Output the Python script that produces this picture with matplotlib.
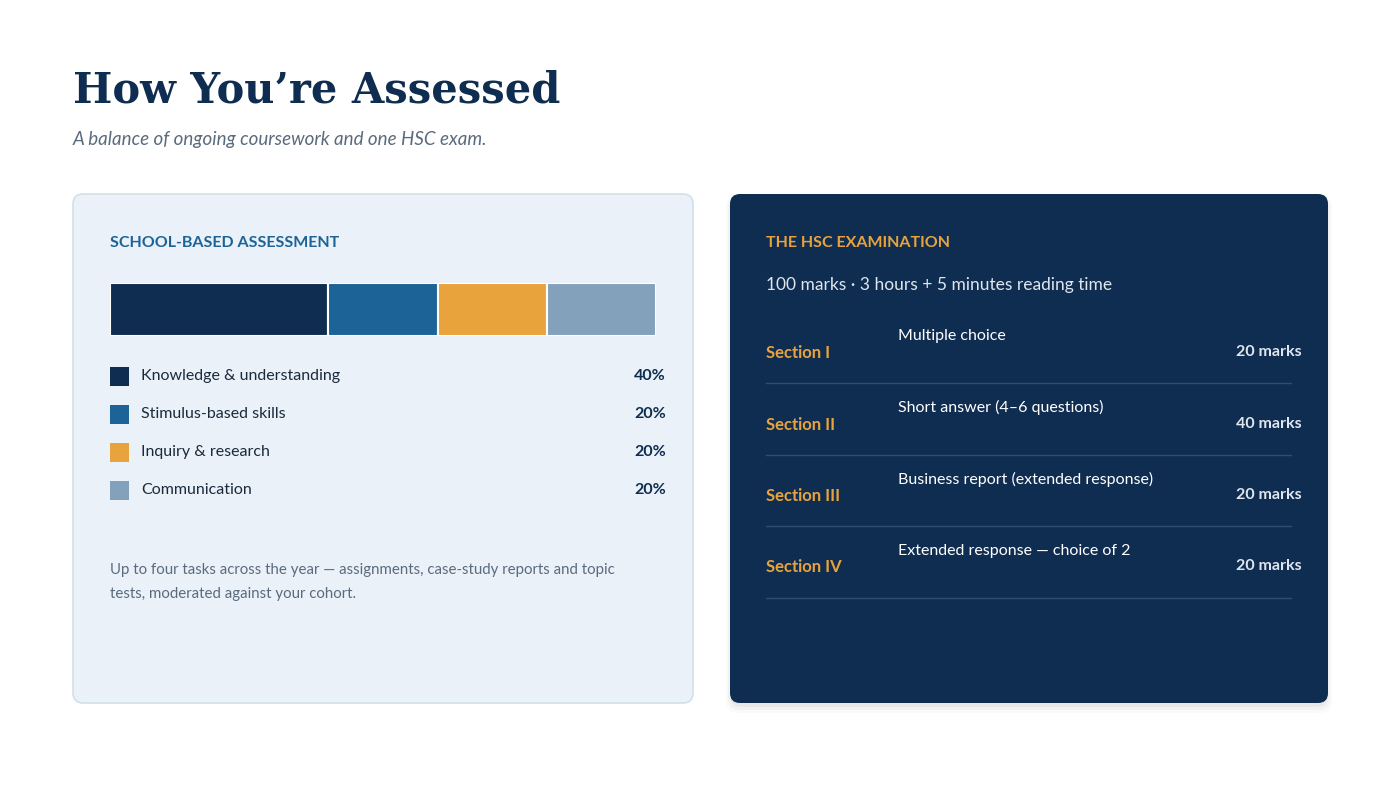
import matplotlib
matplotlib.use("Agg")
import matplotlib.pyplot as plt
from matplotlib.patches import FancyBboxPatch, Rectangle
import numpy as np

plt.rcParams['font.family'] = ['Lato', 'DejaVu Sans']

components = ["Knowledge & understanding", "Stimulus-based skills",
              "Inquiry & research", "Communication"]
weights = [40, 20, 20, 20]
comp_colors = ["#0f2d50", "#1c6397", "#e8a33d", "#84a1bb"]

sections = ["Section I", "Section II", "Section III", "Section IV"]
section_desc = ["Multiple choice", "Short answer (4\u20136 questions)",
                "Business report (extended response)",
                "Extended response \u2014 choice of 2"]
section_marks = [20, 40, 20, 20]

NAVY = "#0f2d50"
ORANGE = "#e8a33d"

W, H = 1400, 788
fig = plt.figure(figsize=(W / 100, H / 100), dpi=100)
ax = fig.add_axes([0, 0, 1, 1])
ax.set_xlim(0, W)
ax.set_ylim(H, 0)
ax.axis("off")

ax.text(73, 90, "How You\u2019re Assessed", fontsize=30, fontweight="bold",
        family="DejaVu Serif", color=NAVY, va="center")
ax.text(73, 139, "A balance of ongoing coursework and one HSC exam.",
        fontsize=13.5, style="italic", color="#5b6b7e", va="center")

# left card
ax.add_patch(FancyBboxPatch((73, 194), 620, 509, boxstyle="round,pad=0,rounding_size=10",
                            fc="#eaf1f8", ec="#d3dfea", lw=1.2))
ax.text(110, 243, "SCHOOL-BASED ASSESSMENT", fontsize=11.5, fontweight="bold",
        color="#1c6397", va="center")

bar_ax = fig.add_axes([110 / W, 1 - 336 / H, 546 / W, 53 / H])
left = np.cumsum([0] + weights[:-1])
bar_ax.barh([0], weights, left=left, color=comp_colors, height=1,
            edgecolor="white", linewidth=1.5)
bar_ax.set_xlim(0, sum(weights))
bar_ax.set_ylim(-0.5, 0.5)
bar_ax.axis("off")

for i, (name, w, c) in enumerate(zip(components, weights, comp_colors)):
    y = 376 + 38 * i
    ax.add_patch(Rectangle((110, y - 9), 19, 19, fc=c, ec="none"))
    ax.text(141, y, name, fontsize=11.5, color="#1b2a3c", va="center")
    ax.text(666, y, f"{w}%", fontsize=11.5, fontweight="bold", color=NAVY,
            va="center", ha="right")

ax.text(110, 570, "Up to four tasks across the year \u2014 assignments, case-study reports and topic",
        fontsize=10.8, color="#5b6b7e", va="center")
ax.text(110, 594, "tests, moderated against your cohort.", fontsize=10.8,
        color="#5b6b7e", va="center")

# right card with shadow
for k, a in enumerate([0.04, 0.03, 0.02]):
    ax.add_patch(FancyBboxPatch((730 - 2 * k, 198 - k), 598 + 4 * k, 509 + 4 * k,
                                boxstyle="round,pad=0,rounding_size=12",
                                fc="black", ec="none", alpha=a))
ax.add_patch(FancyBboxPatch((730, 194), 598, 509, boxstyle="round,pad=0,rounding_size=10",
                            fc=NAVY, ec="none"))
ax.text(766, 243, "THE HSC EXAMINATION", fontsize=11.5, fontweight="bold",
        color=ORANGE, va="center")
ax.text(766, 285, "100 marks \u00b7 3 hours + 5 minutes reading time", fontsize=12.5,
        color="#dfe6ee", va="center")

for i, (s, d, m) in enumerate(zip(sections, section_desc, section_marks)):
    y0 = 336 + 71.5 * i
    ax.text(766, y0 + 17, s, fontsize=12, fontweight="bold", color=ORANGE, va="center")
    ax.text(898, y0, d, fontsize=11.5, color="white", va="center")
    ax.text(1302, y0 + 16, f"{m} marks", fontsize=11.5, fontweight="bold",
            color="#dfe6ee", va="center", ha="right")
    ax.plot([766, 1291], [y0 + 47, y0 + 47], color="#2f4d6e", lw=1)

fig.savefig("out.png", dpi=100, facecolor="white")
